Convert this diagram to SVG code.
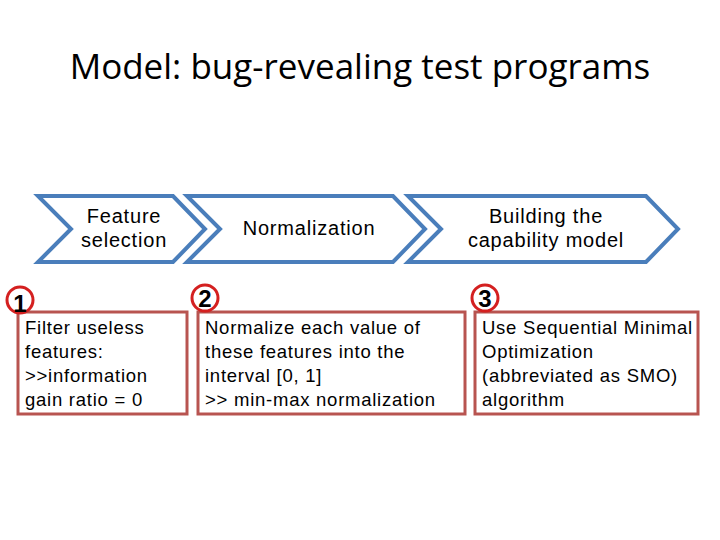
<svg xmlns="http://www.w3.org/2000/svg" width="720" height="540" viewBox="0 0 720 540">
<style>
.chev{fill:#fff;stroke:#4a7ebb;stroke-width:4;stroke-linejoin:miter}
.box{fill:#fff;stroke:#b85450;stroke-width:3}
.ring{fill:none;stroke:#d42020;stroke-width:3}
.t{font-family:"Liberation Sans",Arial,sans-serif;font-size:18.5px;letter-spacing:0.75px;fill:#000}
.ct{font-family:"Liberation Sans",Arial,sans-serif;font-size:20px;letter-spacing:0.8px;fill:#000;text-anchor:middle}
.num{font-family:"Liberation Sans",Arial,sans-serif;font-size:24px;font-weight:bold;fill:#000;text-anchor:middle}
.title{font-family:"Open Sans","Liberation Sans",sans-serif;font-size:35px;fill:#000;text-anchor:middle}
</style>
<rect width="720" height="540" fill="#fff"/>
<text class="title" x="360" y="79">Model: bug-revealing test programs</text>
<g id="chevron1">
<polygon class="chev" points="38,196 173,196 205,229 173,262 38,262 71,229"/>
<text class="ct" x="124" y="223">Feature</text>
<text class="ct" x="124" y="247">selection</text>
</g>
<g id="chevron2">
<polygon class="chev" points="187,196 393,196 425,229 393,262 187,262 220,229"/>
<text class="ct" x="309" y="235">Normalization</text>
</g>
<g id="chevron3">
<polygon class="chev" points="408,196 646,196 678,229 646,262 408,262 441,229"/>
<text class="ct" x="546" y="223">Building the</text>
<text class="ct" x="546" y="247">capability model</text>
</g>
<g id="step1">
<rect class="box" x="18" y="312" width="169" height="102"/>
<circle class="ring" cx="20" cy="300" r="13"/>
<text class="num" x="20" y="312">1</text>
<text class="t" x="25" y="334">Filter useless</text>
<text class="t" x="25" y="358">features:</text>
<text class="t" x="25" y="382">&gt;&gt;information</text>
<text class="t" x="25" y="406">gain ratio = 0</text>
</g>
<g id="step2">
<rect class="box" x="198" y="312" width="267" height="102"/>
<circle class="ring" cx="205" cy="298" r="13"/>
<text class="num" x="205" y="307">2</text>
<text class="t" x="205" y="334">Normalize each value of</text>
<text class="t" x="205" y="358">these features into the</text>
<text class="t" x="205" y="382">interval [0, 1]</text>
<text class="t" x="205" y="406">&gt;&gt; min-max normalization</text>
</g>
<g id="step3">
<rect class="box" x="475" y="312" width="223" height="102"/>
<circle class="ring" cx="485" cy="298" r="13"/>
<text class="num" x="485" y="307">3</text>
<text class="t" x="482" y="334">Use Sequential Minimal</text>
<text class="t" x="482" y="358">Optimization</text>
<text class="t" x="482" y="382">(abbreviated as SMO)</text>
<text class="t" x="482" y="406">algorithm</text>
</g>
<g id="connectors"/>
</svg>
